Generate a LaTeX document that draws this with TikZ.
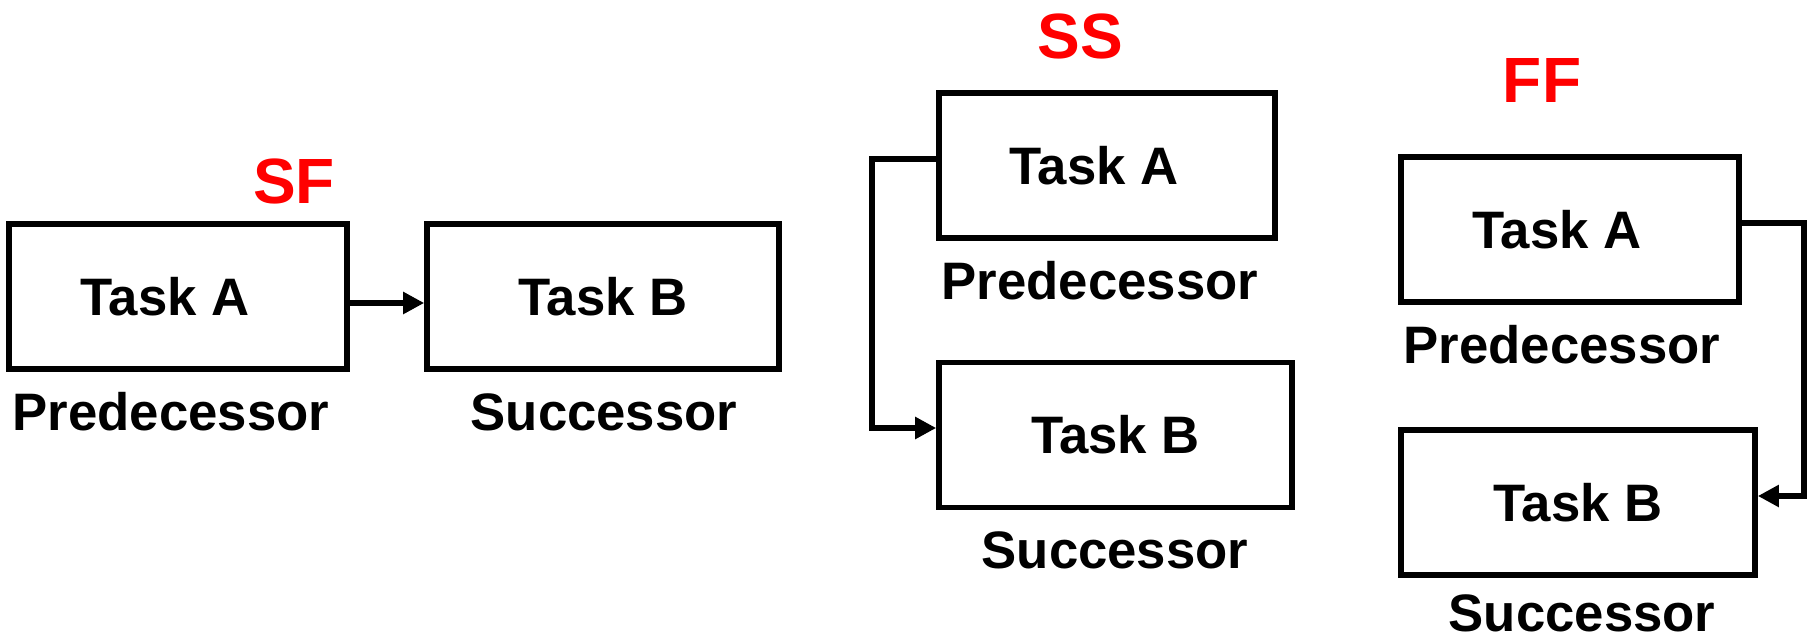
\documentclass[tikz,border=0pt]{standalone}
\usepackage{fontspec}
\setmainfont{Liberation Sans}
\usetikzlibrary{arrows.meta}

\begin{document}
\begin{tikzpicture}[
    task/.style={draw, line width=1.6pt, minimum height=1.45cm, font=\fontsize{15}{18}\selectfont\bfseries},
    link/.style={-{Triangle[length=6pt,width=6pt]}, line width=1.6pt},
    role/.style={font=\fontsize{15}{18}\selectfont\bfseries},
    kind/.style={text=red, font=\fontsize{18.2}{21}\selectfont\bfseries}
]
\useasboundingbox (0,0) rectangle (18.08,6.38);

% Start to finish
\node[kind] (sf) at (2.94, 4.57) {SF};
\node[task, minimum width=3.38cm] (sfA) at (1.78, 3.415) {Task A\hspace*{0.26cm}};
\node[task, minimum width=3.52cm] (sfB) at (6.03, 3.415) {Task B};
\node[role] (sfPre) at (1.71, 2.26) {Predecessor};
\node[role] (sfSuc) at (6.04, 2.26) {Successor};

% Start to start
\node[kind] (ss) at (10.80, 6.02) {SS};
\node[task, minimum width=3.36cm] (ssA) at (11.07, 4.725) {Task A\hspace*{0.26cm}};
\node[task, minimum width=3.53cm] (ssB) at (11.155, 2.03) {Task B};
\node[role] (ssPre) at (11.00, 3.57) {Predecessor};
\node[role] (ssSuc) at (11.15, 0.88) {Successor};

% Finish to finish
\node[kind] (ff) at (15.42, 5.57) {FF};
\node[task, minimum width=3.38cm] (ffA) at (15.70, 4.085) {Task A\hspace*{0.26cm}};
\node[task, minimum width=3.54cm] (ffB) at (15.78, 1.355) {Task B};
\node[role] (ffPre) at (15.62, 2.93) {Predecessor};
\node[role] (ffSuc) at (15.82, 0.25) {Successor};

% Links
\draw[link] ([yshift=-0.065cm]sfA.east) -- ([yshift=-0.065cm]sfB.west);
\draw[link] ([yshift=0.065cm]ssA.west) -- ++(-0.64,0) |- ([yshift=0.07cm]ssB.west);
\draw[link] ([yshift=0.065cm]ffA.east) -- ++(0.62,0) |- ([yshift=0.065cm]ffB.east);

\end{tikzpicture}
\end{document}
